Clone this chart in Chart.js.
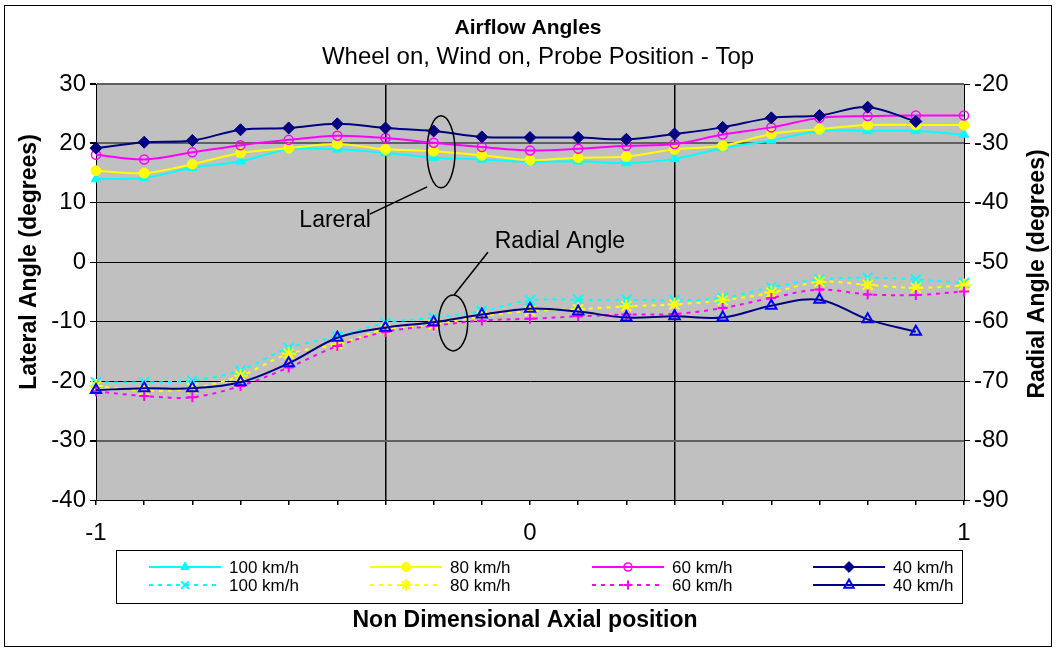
<!DOCTYPE html>
<html>
<head>
<meta charset="utf-8">
<script src="https://cdn.jsdelivr.net/npm/chart.js@4.4.1/dist/chart.umd.min.js"></script>
<style>
  body { margin: 0; background: #fff; }
  #wrap { width: 1057px; height: 650px; position: relative; }
</style>
</head>
<body>
<div id="wrap"><canvas id="airflowChart"></canvas></div>
<script>
// non dimensional axial positions (19 probe stations)
const xPos = [-1, -0.889, -0.778, -0.667, -0.556, -0.444, -0.333, -0.222, -0.111, 0,
              0.111, 0.222, 0.333, 0.444, 0.556, 0.667, 0.778, 0.889, 1];
const xTickLabels = ['-1', '0', '1'];
const xLabelIndex = [0, 9, 18];

// lateral angle (left axis, degrees)
const lat100 = [14.0, 14.2, 15.9, 17.0, 19.0, 19.0, 18.4, 17.6, 17.3, 16.9, 17.0, 16.7, 17.4, 19.2, 20.5, 22.1, 22.1, 22.1, 21.5];
const lat80  = [15.4, 15.0, 16.5, 18.4, 19.2, 19.9, 19.0, 18.7, 18.0, 17.2, 17.6, 17.8, 19.0, 19.6, 21.6, 22.4, 23.1, 23.1, 23.1];
const lat60  = [18.1, 17.3, 18.5, 19.7, 20.6, 21.3, 20.9, 20.1, 19.4, 18.8, 19.1, 19.6, 19.9, 21.5, 22.7, 24.3, 24.6, 24.7, 24.7];
const lat40  = [19.2, 20.2, 20.5, 22.3, 22.6, 23.3, 22.6, 22.1, 21.1, 21.0, 21.0, 20.7, 21.6, 22.7, 24.3, 24.7, 26.1, 23.7, null];

// radial angle (right axis, degrees)
const rad100 = [-70.2, -70.2, -69.9, -68.2, -64.4, -62.5, -60.2, -59.3, -58.2, -56.4, -56.3, -56.3, -56.4, -56.0, -54.2, -52.9, -52.6, -52.9, -53.5];
const rad80  = [-70.8, -71.6, -71.2, -69.1, -65.4, -63.8, -61.3, -60.5, -59.1, -58.2, -57.9, -57.4, -57.1, -56.4, -55.1, -53.3, -53.8, -54.3, -53.9];
const rad60  = [-71.7, -72.5, -72.7, -70.8, -67.7, -64.1, -61.7, -60.7, -59.8, -59.5, -59.1, -58.8, -58.7, -57.7, -56.0, -54.6, -55.4, -55.5, -54.9];
const rad40  = [-71.5, -71.2, -71.2, -70.2, -67.0, -62.7, -61.0, -60.1, -58.8, -57.8, -58.3, -59.3, -59.1, -59.3, -57.3, -56.3, -59.6, -61.7, null];

const seriesNames = ['100 km/h', '80 km/h', '60 km/h', '40 km/h'];

const FONT = '"Liberation Sans", Arial, sans-serif';

function pts(arr) {
    return xPos.map((x, i) => ({ x: x, y: arr[i] }));
}

function series(label, arr, axis, color, style) {
    return Object.assign({
        label: label,
        data: pts(arr),
        yAxisID: axis,
        borderColor: color,
        backgroundColor: color,
        pointBorderColor: color,
        pointBackgroundColor: color,
        borderWidth: 2,
        pointBorderWidth: 1,
        tension: 0.35,
        clip: false,
        spanGaps: false
    }, style);
}

const datasets = [
    series(seriesNames[0], lat100, 'y', '#00FFFF', { pointStyle: 'triangle', pointRadius: 5.5 }),
    series(seriesNames[1], lat80, 'y', '#FFFF00', { pointStyle: 'circle', pointRadius: 5 }),
    series(seriesNames[2], lat60, 'y', '#FF00FF', { pointStyle: 'circle', pointRadius: 4.5, pointBackgroundColor: 'rgba(0,0,0,0)', pointBorderWidth: 1.5 }),
    series(seriesNames[3], lat40, 'y', '#000080', { pointStyle: 'rectRot', pointRadius: 6 }),
    series(seriesNames[0], rad100, 'y2', '#00FFFF', { pointStyle: 'crossRot', pointRadius: 7, pointBorderWidth: 2, borderDash: [4, 5] }),
    series(seriesNames[1], rad80, 'y2', '#FFFF00', { pointStyle: 'star', pointRadius: 7, pointBorderWidth: 2, borderDash: [4, 5] }),
    series(seriesNames[2], rad60, 'y2', '#FF00FF', { pointStyle: 'cross', pointRadius: 5, pointBorderWidth: 2, borderDash: [4, 5] }),
    series(seriesNames[3], rad40, 'y2', '#000080', { pointStyle: 'triangle', pointRadius: 6, pointBorderColor: '#0000FF', pointBackgroundColor: 'rgba(0,0,0,0)', pointBorderWidth: 2 })
];
// first dataset in the list is painted last in Chart.js, so flip it
datasets.forEach((d, i) => { d.order = datasets.length - 1 - i; });

// annotation shapes, in data units of the x and left y axis
const ellipses = [
    { x: -0.205, y: 18.6, rx: 14, ry: 36 },
    { x: -0.177, y: -10.2, rx: 14.5, ry: 28 }
];
const leaders = [
    { x1: -0.369, y1: 8.1, x2: -0.237, y2: 12.7 },
    { x1: -0.097, y1: 1.7, x2: -0.175, y2: -5.5 }
];
const notes = [
    { text: 'Lareral', x: -0.449, y: 7.0 },
    { text: 'Radial Angle', x: 0.069, y: 3.5 }
];

const decorPlugin = {
    id: 'decor',
    beforeDraw(chart) {
        const a = chart.chartArea, ctx = chart.ctx;
        ctx.save();
        ctx.fillStyle = '#C0C0C0';
        ctx.fillRect(a.left, a.top, a.right - a.left, a.bottom - a.top);
        ctx.restore();
    },
    afterDraw(chart) {
        const ctx = chart.ctx, a = chart.chartArea;
        const sx = chart.scales.x, sy = chart.scales.y;
        ctx.save();
        ctx.fillStyle = '#000';
        ctx.textAlign = 'center';
        ctx.textBaseline = 'middle';

        // titles
        ctx.font = 'bold 21px ' + FONT;
        ctx.fillText('Airflow Angles', 528, 28);
        ctx.font = '24px ' + FONT;
        ctx.fillText('Wheel on, Wind on, Probe Position - Top', 538, 57);

        // axis titles
        ctx.font = 'bold 23px ' + FONT;
        ctx.fillText('Non Dimensional Axial position', 525, 621);
        ctx.save();
        ctx.translate(30, 262);
        ctx.rotate(-Math.PI / 2);
        ctx.fillText('Lateral Angle (degrees)', 0, 0);
        ctx.restore();
        ctx.save();
        ctx.translate(1038, 274);
        ctx.rotate(-Math.PI / 2);
        ctx.fillText('Radial Angle (degrees)', 0, 0);
        ctx.restore();

        // annotations
        ctx.strokeStyle = '#000';
        ctx.lineWidth = 1.5;
        ellipses.forEach(e => {
            ctx.beginPath();
            ctx.ellipse(sx.getPixelForValue(e.x), sy.getPixelForValue(e.y), e.rx, e.ry, 0, 0, Math.PI * 2);
            ctx.stroke();
        });
        leaders.forEach(l => {
            ctx.beginPath();
            ctx.moveTo(sx.getPixelForValue(l.x1), sy.getPixelForValue(l.y1));
            ctx.lineTo(sx.getPixelForValue(l.x2), sy.getPixelForValue(l.y2));
            ctx.stroke();
        });
        ctx.font = '23px ' + FONT;
        notes.forEach(n => ctx.fillText(n.text, sx.getPixelForValue(n.x), sy.getPixelForValue(n.y)));

        // legend box, 4 columns x 2 rows
        ctx.lineWidth = 1;
        ctx.strokeRect(116.5, 550.5, 846, 53);
        const colX = [149, 370, 592, 813];
        const rowY = [567, 585];
        ctx.textAlign = 'left';
        ctx.font = '17px ' + FONT;
        chart.data.datasets.forEach((d, i) => {
            const x0 = colX[i % 4], y0 = rowY[Math.floor(i / 4)];
            ctx.save();
            ctx.strokeStyle = d.borderColor;
            ctx.lineWidth = 2;
            ctx.setLineDash(d.borderDash || []);
            ctx.beginPath();
            ctx.moveTo(x0, y0);
            ctx.lineTo(x0 + 72, y0);
            ctx.stroke();
            ctx.setLineDash([]);
            ctx.strokeStyle = d.pointBorderColor;
            ctx.fillStyle = d.pointBackgroundColor;
            ctx.lineWidth = d.pointBorderWidth;
            Chart.helpers.drawPoint(ctx, {
                pointStyle: d.pointStyle,
                radius: Math.max(4, Math.min(d.pointRadius, 6) * 0.9),
                rotation: 0,
                borderWidth: d.pointBorderWidth
            }, x0 + 36, y0);
            ctx.restore();
            ctx.fillText(d.label, x0 + 80, y0 + 1);
        });

        // outer chart frame
        ctx.strokeStyle = '#000';
        ctx.lineWidth = 1;
        ctx.strokeRect(4.5, 5.5, 1047, 641);
        ctx.restore();
    }
};

const ctx = document.getElementById('airflowChart').getContext('2d');
new Chart(ctx, {
    type: 'line',
    data: { datasets: datasets },
    plugins: [decorPlugin],
    options: {
        responsive: true,
        maintainAspectRatio: false,
        animation: false,
        layout: { padding: { top: 84, left: 0, right: 0, bottom: 0 } },
        plugins: {
            legend: { display: false },
            title: { display: false },
            tooltip: { enabled: false }
        },
        scales: {
            x: {
                type: 'linear',
                min: -1,
                max: 1,
                afterBuildTicks: s => { s.ticks = xPos.map(v => ({ value: v })); },
                afterFit: s => { s.height = 150; },
                ticks: {
                    autoSkip: false,
                    maxRotation: 0,
                    padding: 14,
                    color: '#000',
                    font: { family: FONT, size: 24 },
                    callback: (v, i) => {
                        const k = xLabelIndex.indexOf(i);
                        return k >= 0 ? xTickLabels[k] : '';
                    }
                },
                grid: {
                    color: c => (c.index === 6 || c.index === 12) ? '#000' : 'rgba(0,0,0,0)',
                    lineWidth: 1.5,
                    tickColor: '#000',
                    tickLength: 5
                },
                border: { display: true, color: '#000', width: 1 }
            },
            y: {
                position: 'left',
                min: -40,
                max: 30,
                afterFit: s => { s.width = 96; },
                ticks: { stepSize: 10, padding: 4, color: '#000', font: { family: FONT, size: 24 } },
                grid: {
                    color: c => [20, -30, 30].includes(c.tick.value) ? '#606060' : '#000',
                    lineWidth: c => [20, -30, 30].includes(c.tick.value) ? 2 : 1,
                    tickColor: '#000',
                    tickLength: 6
                },
                border: { display: true, color: '#000', width: 1 }
            },
            y2: {
                position: 'right',
                min: -90,
                max: -20,
                afterFit: s => { s.width = 93; },
                ticks: { stepSize: 10, padding: 4, color: '#000', font: { family: FONT, size: 24 } },
                grid: { drawOnChartArea: false, tickColor: '#000', tickLength: 6 },
                border: { display: true, color: '#000', width: 1 }
            }
        }
    }
});
</script>
</body>
</html>
